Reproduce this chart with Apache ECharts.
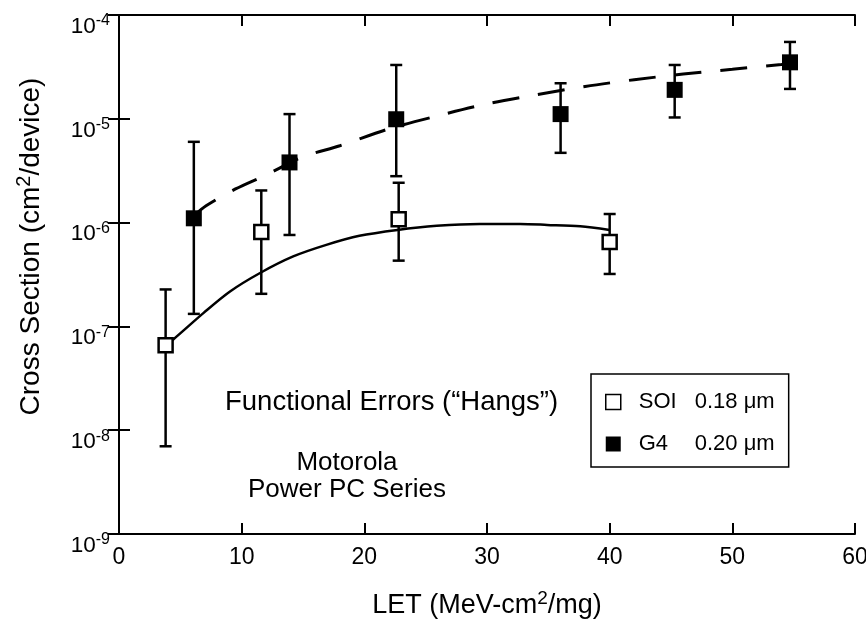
<!DOCTYPE html>
<html>
<head>
<meta charset="utf-8">
<script src="https://cdn.jsdelivr.net/npm/echarts@6/dist/echarts.min.js"></script>
<style>
  html, body { margin: 0; padding: 0; background: #fff; }
  #chart { width: 866px; height: 621px; }
</style>
</head>
<body>
<div id="chart"></div>
<script>
// ---------- data ----------
const xTicks = [0, 10, 20, 30, 40, 50, 60];
const yTickExponents = [-9, -8, -7, -6, -5, -4];

// SOI 0.18 um (open squares)
const soiX    = [3.8, 11.6, 22.8, 40.0];
const soiY    = [6.6e-8, 8.1e-7, 1.08e-6, 6.5e-7];
const soiLow  = [7.0e-9, 2.06e-7, 4.3e-7, 3.2e-7];
const soiHigh = [2.27e-7, 2.04e-6, 2.42e-6, 1.21e-6];

// G4 0.20 um (filled squares)
const g4X    = [6.1, 13.9, 22.6, 36.0, 45.3, 54.7];
const g4Y    = [1.10e-6, 3.8e-6, 9.9e-6, 1.11e-5, 1.9e-5, 3.5e-5];
const g4Low  = [1.32e-7, 7.6e-7, 2.8e-6, 4.7e-6, 1.03e-5, 1.94e-5];
const g4High = [6.0e-6, 1.11e-5, 3.3e-5, 2.2e-5, 3.3e-5, 5.5e-5];

// fitted curves
const soiFitX = [3.9, 4.4, 6.9, 9.05, 11.5, 14.2, 16.9, 19.6, 22.7, 25.9, 29.4, 32.7, 34.9, 37.6, 40.0];
const soiFitY = [6.8e-8, 7.45e-8, 1.35e-7, 2.17e-7, 3.27e-7, 4.72e-7, 6.1e-7, 7.46e-7, 8.5e-7, 9.3e-7, 9.7e-7, 9.7e-7, 9.5e-7, 9.2e-7, 8.5e-7];

const g4FitX = [6.1, 7.1, 9.5, 12, 15, 18, 22, 26, 30, 34, 38, 42, 46, 50, 54, 55.6];
const g4FitY = [1.16e-6, 1.45e-6, 2.11e-6, 2.88e-6, 4.3e-6, 5.5e-6, 8.0e-6, 1.07e-5, 1.39e-5, 1.70e-5, 2.05e-5, 2.38e-5, 2.70e-5, 3.0e-5, 3.34e-5, 3.5e-5];

const legendLabels = { 'SOI': ['SOI', '0.18 μm'], 'G4': ['G4', '0.20 μm'] };
const annotationMain = 'Functional Errors (“Hangs”)';
const annotationSub = ['Motorola', 'Power PC Series'];

// ---------- chart ----------
const FONT = '"Liberation Sans", Arial, Helvetica, sans-serif';
const chart = echarts.init(document.getElementById('chart'), null, { renderer: 'canvas' });

const zip = (xs, ys) => xs.map((x, i) => [x, ys[i]]);

function errorBars(name, xs, lows, highs) {
  return {
    type: 'custom', name: name + ' err', silent: true, z: 2,
    data: xs.map((x, i) => [x, lows[i], highs[i]]),
    encode: { x: 0, y: [1, 2] },
    renderItem: function (params, api) {
      const x = api.value(0);
      const lo = api.coord([x, api.value(1)]);
      const hi = api.coord([x, api.value(2)]);
      const h = 6;
      const st = { stroke: '#000', lineWidth: 2.5 };
      return {
        type: 'group',
        children: [
          { type: 'line', shape: { x1: lo[0], y1: lo[1], x2: hi[0], y2: hi[1] }, style: st },
          { type: 'line', shape: { x1: lo[0] - h, y1: lo[1], x2: lo[0] + h, y2: lo[1] }, style: st },
          { type: 'line', shape: { x1: hi[0] - h, y1: hi[1], x2: hi[0] + h, y2: hi[1] }, style: st }
        ]
      };
    }
  };
}

const axisLineStyle = { color: '#000', width: 2 };
const tickStyle = { color: '#000', width: 2 };

const option = {
  backgroundColor: '#fff',
  animation: false,
  textStyle: { fontFamily: FONT, color: '#000' },
  grid: { left: 119, right: 11, top: 15, bottom: 87, containLabel: false, outerBoundsMode: 'none' },
  xAxis: [
    {
      type: 'value', position: 'bottom',
      min: xTicks[0], max: xTicks[xTicks.length - 1], interval: xTicks[1] - xTicks[0],
      axisLine: { lineStyle: axisLineStyle },
      axisTick: { inside: true, length: 11, lineStyle: tickStyle },
      splitLine: { show: false },
      axisLabel: { color: '#000', fontFamily: FONT, fontSize: 23, margin: 12 },
      name: '{n|LET (MeV-cm}{s|2}{n|/mg)}',
      nameLocation: 'middle', nameGap: 55,
      nameTextStyle: {
        rich: {
          n: { fontFamily: FONT, fontSize: 27, color: '#000', lineHeight: 30, verticalAlign: 'bottom' },
          s: { fontFamily: FONT, fontSize: 19, color: '#000', lineHeight: 30, verticalAlign: 'top' }
        }
      }
    },
    {
      type: 'value', position: 'top',
      min: xTicks[0], max: xTicks[xTicks.length - 1], interval: xTicks[1] - xTicks[0],
      axisLine: { lineStyle: axisLineStyle },
      axisTick: { inside: true, length: 11, lineStyle: tickStyle },
      splitLine: { show: false },
      axisLabel: { show: false }
    }
  ],
  yAxis: [
    {
      type: 'log', logBase: 10, position: 'left',
      min: Math.pow(10, yTickExponents[0]), max: Math.pow(10, yTickExponents[yTickExponents.length - 1]),
      interval: 1,
      axisLine: { lineStyle: axisLineStyle },
      axisTick: { inside: true, length: 11, lineStyle: tickStyle },
      minorTick: { show: false },
      splitLine: { show: false },
      axisLabel: {
        margin: 9,
        verticalAlign: 'middle',
        padding: [21, 0, 0, 0],
        formatter: function (v) {
          const e = Math.round(Math.log10(v));
          return '{b|10}{s|' + e + '}';
        },
        rich: {
          b: { fontFamily: FONT, fontSize: 22.5, color: '#000', lineHeight: 25, verticalAlign: 'bottom' },
          s: { fontFamily: FONT, fontSize: 16, color: '#000', lineHeight: 16, verticalAlign: 'top' }
        }
      },
      name: '{n|Cross Section (cm}{s|2}{n|/device)}',
      nameLocation: 'middle', nameGap: 74,
      nameTextStyle: {
        padding: [0, 0, 0, 56],
        rich: {
          n: { fontFamily: FONT, fontSize: 28, color: '#000', lineHeight: 31, verticalAlign: 'bottom' },
          s: { fontFamily: FONT, fontSize: 20, color: '#000', lineHeight: 31, verticalAlign: 'top' }
        }
      }
    },
    {
      type: 'log', logBase: 10, position: 'right',
      min: Math.pow(10, yTickExponents[0]), max: Math.pow(10, yTickExponents[yTickExponents.length - 1]),
      interval: 1,
      axisLine: { lineStyle: axisLineStyle },
      axisTick: { inside: true, length: 11, lineStyle: tickStyle },
      minorTick: { show: false },
      splitLine: { show: false },
      axisLabel: { show: false }
    }
  ],
  legend: {
    left: 591, top: 374,
    orient: 'vertical',
    data: [
      { name: 'SOI', icon: 'rect', itemStyle: { color: '#fff', borderColor: '#000', borderWidth: 1.5 } },
      { name: 'G4', icon: 'rect', itemStyle: { color: '#000', borderColor: '#000', borderWidth: 0 } }
    ],
    itemWidth: 15, itemHeight: 15,
    itemGap: 20,
    padding: [17, 14, 12, 14],
    borderColor: '#000', borderWidth: 1.5,
    backgroundColor: '#fff',
    selectedMode: false,
    formatter: function (name) {
      const p = legendLabels[name];
      return '{g|}{a|' + p[0] + '}{b|' + p[1] + '}';
    },
    textStyle: {
      rich: {
        g: { width: 13 },
        a: { fontFamily: FONT, fontSize: 22, color: '#000', width: 56 },
        b: { fontFamily: FONT, fontSize: 22, color: '#000' }
      }
    }
  },
  graphic: [
    {
      type: 'text', x: 225, y: 402, silent: true,
      style: { text: annotationMain, font: '27.5px ' + FONT, fill: '#000', verticalAlign: 'middle', align: 'left' }
    },
    {
      type: 'text', x: 347, y: 463, silent: true,
      style: { text: annotationSub[0], font: '26px ' + FONT, fill: '#000', verticalAlign: 'middle', align: 'center' }
    },
    {
      type: 'text', x: 347, y: 490, silent: true,
      style: { text: annotationSub[1], font: '26px ' + FONT, fill: '#000', verticalAlign: 'middle', align: 'center' }
    }
  ],
  series: [
    errorBars('SOI', soiX, soiLow, soiHigh),
    errorBars('G4', g4X, g4Low, g4High),
    {
      type: 'line', name: 'SOI fit', z: 3, silent: true,
      data: zip(soiFitX, soiFitY), showSymbol: false, smooth: 0.3,
      lineStyle: { color: '#000', width: 2.5, type: 'solid' }
    },
    {
      type: 'line', name: 'G4 fit', z: 3, silent: true,
      data: zip(g4FitX, g4FitY), showSymbol: false, smooth: 0.3,
      lineStyle: { color: '#000', width: 3, type: [27, 19] }
    },
    {
      type: 'scatter', name: 'SOI', z: 5,
      data: zip(soiX, soiY), symbol: 'rect', symbolSize: 14,
      itemStyle: { color: '#fff', borderColor: '#000', borderWidth: 2.5, opacity: 1 }
    },
    {
      type: 'scatter', name: 'G4', z: 5,
      data: zip(g4X, g4Y), symbol: 'rect', symbolSize: 16,
      itemStyle: { color: '#000', borderColor: '#000', borderWidth: 0, opacity: 1 }
    }
  ]
};

chart.setOption(option);
</script>
</body>
</html>
